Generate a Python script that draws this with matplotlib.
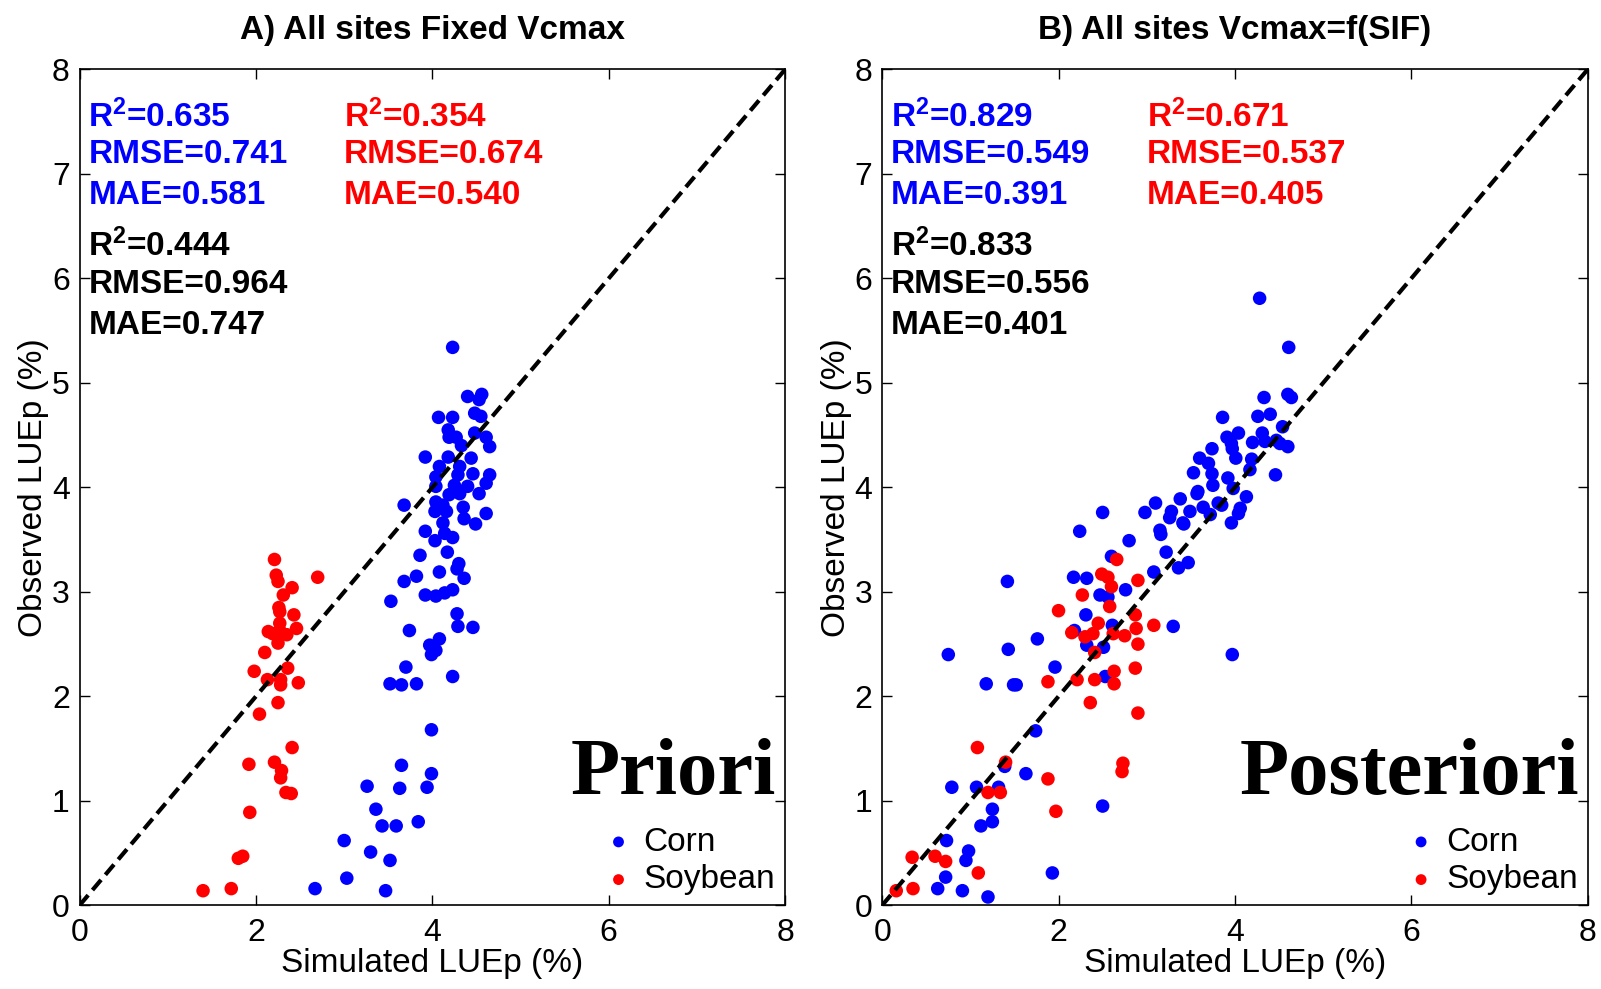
import matplotlib
matplotlib.use("Agg")
import matplotlib.pyplot as plt
import numpy as np

plt.rcParams["font.family"] = ["Liberation Sans", "DejaVu Sans"]
plt.rcParams["mathtext.fontset"] = "custom"
plt.rcParams["mathtext.rm"] = "Liberation Sans"
plt.rcParams["mathtext.bf"] = "Liberation Sans:bold"

BLUE = "#0000FF"
RED = "#FF0000"

# ── Panel A: Fixed Vcmax (Priori) ─────────────────────────────
a_corn_x = [4.23, 4.40, 4.56, 4.53, 4.07, 4.23, 4.48, 4.55, 4.18, 4.19, 4.27, 4.48, 4.61,
            4.65, 4.33, 3.92, 4.18, 4.44, 4.08, 4.31, 4.46, 4.65, 4.04, 4.29, 4.61, 4.25,
            4.04, 4.40, 4.53, 4.31, 4.19, 4.04, 3.68, 4.12, 4.35, 4.03, 4.16, 4.61, 4.36,
            4.49, 4.12, 3.92, 4.14, 4.23, 4.03, 3.86, 4.17, 4.30, 4.28, 4.08, 3.82, 3.68,
            4.36, 3.92, 4.04, 4.14, 4.23, 3.53, 4.28, 4.29, 4.46, 3.74, 4.08, 3.97, 4.04,
            3.99, 3.70, 4.23, 3.52, 3.65, 3.82, 3.99, 3.65, 3.99, 3.26, 3.63, 3.94, 3.36,
            3.43, 3.59, 3.84, 3.00, 3.30, 3.52, 3.03, 3.47, 2.67]
a_corn_y = [5.34, 4.87, 4.89, 4.84, 4.67, 4.67, 4.71, 4.68, 4.55, 4.48, 4.48, 4.52, 4.48,
            4.39, 4.40, 4.29, 4.29, 4.28, 4.20, 4.20, 4.13, 4.12, 4.10, 4.12, 4.04, 4.02,
            4.01, 4.01, 3.94, 3.94, 3.93, 3.86, 3.83, 3.83, 3.81, 3.77, 3.77, 3.75, 3.70,
            3.65, 3.66, 3.58, 3.56, 3.52, 3.49, 3.35, 3.38, 3.27, 3.22, 3.19, 3.15, 3.10,
            3.13, 2.97, 2.96, 2.99, 3.02, 2.91, 2.79, 2.67, 2.66, 2.63, 2.55, 2.49, 2.44,
            2.40, 2.28, 2.19, 2.12, 2.11, 2.12, 1.68, 1.34, 1.26, 1.14, 1.12, 1.13, 0.92,
            0.76, 0.76, 0.80, 0.62, 0.51, 0.43, 0.26, 0.14, 0.16]
a_soy_x = [2.21, 2.23, 2.25, 2.70, 2.41, 2.31, 2.26, 2.43, 2.27, 2.14, 2.19, 2.27, 2.35,
           2.46, 2.25, 2.27, 2.10, 1.98, 2.36, 2.13, 2.28, 2.28, 2.48, 2.25, 2.04, 2.41,
           1.92, 2.21, 2.29, 2.28, 2.34, 2.40, 1.93, 1.80, 1.85, 1.40, 1.72]
a_soy_y = [3.31, 3.16, 3.10, 3.14, 3.04, 2.97, 2.85, 2.78, 2.81, 2.62, 2.60, 2.63, 2.59,
           2.65, 2.51, 2.70, 2.42, 2.24, 2.27, 2.16, 2.16, 2.11, 2.13, 1.94, 1.83, 1.51,
           1.35, 1.37, 1.29, 1.22, 1.08, 1.07, 0.89, 0.45, 0.47, 0.14, 0.16]
a_stats_corn = ["0.635", "0.741", "0.581"]
a_stats_soy = ["0.354", "0.674", "0.540"]
a_stats_all = ["0.444", "0.964", "0.747"]

# ── Panel B: Vcmax=f(SIF) (Posteriori) ────────────────────────
b_corn_x = [0.75, 1.43, 1.76, 1.18, 1.49, 1.52, 1.96, 2.18, 2.32, 1.74, 1.63, 1.39, 0.79,
            1.07, 1.32, 1.25, 1.25, 1.12, 0.73, 0.98, 0.95, 0.72, 0.63, 0.91, 1.20, 1.93,
            1.42, 2.24, 2.50, 2.98, 3.10, 3.38, 3.28, 3.26, 3.49, 3.42, 3.57, 2.80, 3.16,
            3.22, 3.36, 3.47, 3.08, 2.60, 2.17, 2.32, 2.76, 2.47, 2.56, 2.31, 3.30, 2.61,
            2.51, 2.53, 3.97, 2.50,
            4.28, 4.61, 4.33, 4.60, 4.64, 3.86, 4.26, 4.40, 4.54, 4.04, 3.91, 4.31, 4.20,
            4.34, 4.47, 4.60, 4.51, 3.96, 3.97, 3.74, 3.60, 4.01, 4.19, 3.70, 4.17, 4.46,
            3.53, 3.92, 3.74, 3.75, 3.98, 3.58, 4.13, 3.81, 4.06, 4.04, 3.64, 3.85, 3.41,
            3.96, 3.15, 3.72]
b_corn_y = [2.40, 2.45, 2.55, 2.12, 2.11, 2.11, 2.28, 2.63, 2.49, 1.67, 1.26, 1.33, 1.13,
            1.13, 1.13, 0.92, 0.80, 0.76, 0.62, 0.52, 0.43, 0.27, 0.16, 0.14, 0.08, 0.31,
            3.10, 3.58, 3.76, 3.76, 3.85, 3.89, 3.77, 3.71, 3.77, 3.65, 3.94, 3.49, 3.55,
            3.38, 3.23, 3.28, 3.19, 3.34, 3.14, 3.13, 3.02, 2.97, 2.95, 2.78, 2.67, 2.68,
            2.47, 2.19, 2.40, 0.95,
            5.81, 5.34, 4.86, 4.89, 4.86, 4.67, 4.68, 4.70, 4.58, 4.52, 4.48, 4.52, 4.43,
            4.44, 4.45, 4.39, 4.42, 4.42, 4.37, 4.37, 4.28, 4.28, 4.27, 4.23, 4.17, 4.12,
            4.14, 4.09, 4.13, 4.02, 3.99, 3.96, 3.91, 3.85, 3.80, 3.75, 3.81, 3.83, 3.66,
            3.66, 3.59, 3.74]
b_soy_x = [2.15, 1.88, 2.21, 2.36, 1.08, 1.40, 1.88, 1.20, 1.34, 1.97, 0.34, 0.60, 0.72,
           1.09, 0.16, 0.35, 2.66, 2.49, 2.56, 2.60, 2.90, 2.27, 2.58, 2.00, 2.87, 2.45,
           2.88, 3.08, 2.30, 2.39, 2.62, 2.75, 2.90, 2.41, 2.87, 2.63, 2.41, 2.63, 2.90,
           2.73, 2.72]
b_soy_y = [2.61, 2.14, 2.16, 1.94, 1.51, 1.37, 1.21, 1.08, 1.08, 0.90, 0.46, 0.47, 0.42,
           0.31, 0.14, 0.16, 3.31, 3.17, 3.14, 3.05, 3.11, 2.97, 2.86, 2.82, 2.78, 2.70,
           2.65, 2.68, 2.57, 2.60, 2.60, 2.58, 2.50, 2.42, 2.27, 2.24, 2.16, 2.12, 1.84,
           1.36, 1.28]
b_stats_corn = ["0.829", "0.549", "0.391"]
b_stats_soy = ["0.671", "0.537", "0.405"]
b_stats_all = ["0.833", "0.556", "0.401"]

panels = [
    ("A) All sites Fixed Vcmax", "Priori", a_corn_x, a_corn_y, a_soy_x, a_soy_y,
     a_stats_corn, a_stats_soy, a_stats_all),
    ("B) All sites Vcmax=f(SIF)", "Posteriori", b_corn_x, b_corn_y, b_soy_x, b_soy_y,
     b_stats_corn, b_stats_soy, b_stats_all),
]

fig = plt.figure(figsize=(16.01, 9.89), dpi=100)
lefts = [0.0497, 0.551]
FS = 24

for left, (title, tag, cx, cy, sx, sy, st_c, st_s, st_a) in zip(lefts, panels):
    ax = fig.add_axes([left, 0.0846, 0.4407, 0.8452])
    ax.plot([0, 8], [0, 8], color="black", ls=(0, (3.2, 1.6)), lw=3, zorder=3)
    ax.scatter(cx, cy, s=95, color=BLUE, edgecolors="none", zorder=2, label="Corn")
    ax.scatter(sx, sy, s=95, color=RED, edgecolors="none", zorder=2, label="Soybean")
    ax.set_xlim(0, 8)
    ax.set_ylim(0, 8)
    ax.set_xticks([0, 2, 4, 6, 8])
    ax.set_yticks(range(9))
    ax.tick_params(direction="in", top=True, right=True, labelsize=FS - 1, length=7, width=1)
    ax.tick_params(axis="x", pad=9)
    ax.tick_params(axis="y", pad=7)
    for sp in ax.spines.values():
        sp.set_linewidth(1.2)
    ax.set_xlabel("Simulated LUEp (%)", fontsize=FS, labelpad=0)
    ax.set_ylabel("Observed LUEp (%)", fontsize=FS, labelpad=2)
    ax.set_title(title, fontsize=FS, fontweight="bold", pad=22)

    rows_y = [7.45, 7.10, 6.71]
    for lst, color, x0, ys in [(st_c, BLUE, 0.1, rows_y), (st_s, RED, 3.0, rows_y),
                                (st_a, "black", 0.1, [6.21, 5.86, 5.47])]:
        labels = [r"$\mathbf{R^2}$=" + lst[0], "RMSE=" + lst[1], "MAE=" + lst[2]]
        for lab, yy in zip(labels, ys):
            ax.text(x0, yy, lab, color=color, fontsize=FS, fontweight="bold",
                    ha="left", va="baseline")

    ax.text(7.9, 1.07, tag, family=["Liberation Serif", "DejaVu Serif"], fontsize=58,
            fontweight="bold", ha="right", va="baseline")
    leg = ax.legend(loc="lower right", frameon=False, fontsize=FS, markerscale=0.8,
                    handlelength=0.6, handletextpad=0.45, labelspacing=0.2,
                    borderaxespad=0.1, borderpad=0.2)

fig.savefig("out.png", dpi=100)
